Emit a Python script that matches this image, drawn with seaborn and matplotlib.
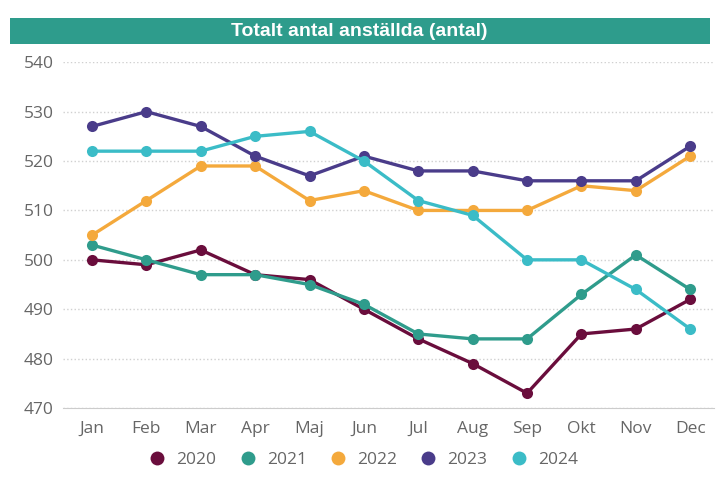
import numpy as np
import pandas as pd
import seaborn as sns
import matplotlib.pyplot as plt
from matplotlib.patches import Rectangle
from matplotlib.lines import Line2D

# Data
months = ['Jan', 'Feb', 'Mar', 'Apr', 'Maj', 'Jun', 'Jul', 'Aug', 'Sep', 'Okt', 'Nov', 'Dec']
years = ['2020', '2021', '2022', '2023', '2024']
v2020 = [500, 499, 502, 497, 496, 490, 484, 479, 473, 485, 486, 492]
v2021 = [503, 500, 497, 497, 495, 491, 485, 484, 484, 493, 501, 494]
v2022 = [505, 512, 519, 519, 512, 514, 510, 510, 510, 515, 514, 521]
v2023 = [527, 530, 527, 521, 517, 521, 518, 518, 516, 516, 516, 523]
v2024 = [522, 522, 522, 525, 526, 520, 512, 509, 500, 500, 494, 486]
yticks = [470, 480, 490, 500, 510, 520, 530, 540]

colors = {'2020': '#6a0d3c', '2021': '#2f9c8c', '2022': '#f4a93c',
          '2023': '#4a3c8a', '2024': '#3bbcc7'}

df = pd.DataFrame({
    'month': months * 5,
    'x': list(range(12)) * 5,
    'year': sum([[y] * 12 for y in years], []),
    'value': v2020 + v2021 + v2022 + v2023 + v2024,
})

sns.set_style('white')
plt.rcParams['font.family'] = ['Open Sans', 'DejaVu Sans']

fig = plt.figure(figsize=(7.18, 4.94), dpi=100)
ax = fig.add_axes([0.088, 0.174, 0.907, 0.70])

sns.lineplot(data=df, x='x', y='value', hue='year', palette=colors,
             marker='o', markersize=8, markeredgewidth=0, linewidth=2.4,
             legend=False, ax=ax)

ax.set_xlim(-0.53, 11.445)
ax.set_ylim(470, 540)
ax.set_xticks(range(12))
ax.set_xticklabels(months)
ax.set_yticks(yticks)
ax.set_xlabel('')
ax.set_ylabel('')
ax.tick_params(axis='both', colors='#666666', labelsize=12.5, length=0, pad=7)
ax.tick_params(axis='x', length=4, color='#cccccc', pad=5)
ax.grid(axis='y', linestyle=':', color='#d0d0d0', linewidth=1)
for s in ['top', 'right', 'left']:
    ax.spines[s].set_visible(False)
ax.spines['bottom'].set_color('#cccccc')

# title bar
fig.patches.append(Rectangle((0.014, 0.911), 0.975, 0.053, transform=fig.transFigure,
                             facecolor='#2e9c8c', edgecolor='none'))
fig.text(0.5, 0.937, 'Totalt antal anställda (antal)', color='white', fontsize=14,
         fontweight='bold', ha='center', va='center', family='Liberation Sans')

# legend
handles = [Line2D([], [], marker='o', linestyle='', markersize=10,
                  markerfacecolor=colors[y], markeredgewidth=0) for y in years]
fig.legend(handles, years, loc='center', bbox_to_anchor=(0.5, 0.068), ncol=5,
           frameon=False, fontsize=12.5, labelcolor='#666666', handletextpad=0.1,
           columnspacing=0.8)

fig.savefig('out.png', dpi=100)
